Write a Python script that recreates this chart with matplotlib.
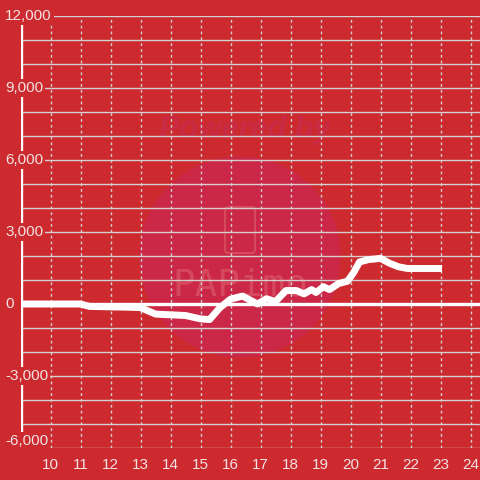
import matplotlib
matplotlib.use("Agg")
import matplotlib.pyplot as plt
from matplotlib.patches import Circle, FancyBboxPatch
from matplotlib.transforms import blended_transform_factory

# data
hours = [9.0, 11.0, 11.3, 12.0, 12.5, 13.0, 13.5, 14.0, 14.5, 15.0, 15.3,
         15.65, 16.0, 16.4, 16.9, 17.2, 17.5, 17.85, 18.2, 18.45, 18.7,
         18.85, 19.1, 19.3, 19.6, 19.9, 20.1, 20.3, 20.6, 21.0, 21.3,
         21.6, 21.9, 23.05]
profit = [0, 0, -100, -120, -130, -150, -420, -450, -480, -620, -650,
          -150, 200, 330, 0, 220, 100, 560, 560, 420, 600,
          480, 720, 600, 850, 950, 1300, 1750, 1850, 1900, 1700,
          1550, 1480, 1480]
x_ticks = list(range(10, 25))
y_labels = [12000, 9000, 6000, 3000, 0, -3000, -6000]

BG = "#cc2a2f"
GRID = "#d4d0d0"
TXT = "#f3e2e2"

fig = plt.figure(figsize=(4.8, 4.8), dpi=100)
fig.patch.set_facecolor(BG)
ax = fig.add_axes([20.5 / 480, 32 / 480, 459.5 / 480, 432 / 480])
ax.set_facecolor(BG)
ax.set_xlim(9.0, 9.0 + 459.5 / 30)
ax.set_ylim(-6000, 12000)

# watermark (behind the grid)
ft = fig.transFigure
ax.add_patch(Circle((240 / 480, 1 - 257 / 480), 100 / 480, transform=ft,
                    color="#cb2847", zorder=0.1, clip_on=False))
ax.text(245 / 480, 1 - 130 / 480, "Powered by", color="#c92a44",
        fontsize=22, fontweight="bold", style="italic", ha="center",
        va="center", family="Liberation Sans", transform=ft, zorder=0.2)
ax.add_patch(FancyBboxPatch((225 / 480, 1 - 253 / 480), 30 / 480, 46 / 480,
                            boxstyle="round,pad=0,rounding_size=0.006",
                            transform=ft, fill=False, edgecolor="#d6485b",
                            lw=1.5, zorder=0.2, clip_on=False))
ax.text(240 / 480, 1 - 286 / 480, "PAPimo", color="#d6485b", fontsize=27,
        ha="center", va="center", family="DejaVu Sans Mono", transform=ft,
        zorder=0.2)

for s in ax.spines.values():
    s.set_visible(False)

ax.set_yticks(range(-6000, 12001, 1000))
ax.set_yticklabels([])
ax.set_xticks(x_ticks)
ax.set_xticklabels([str(t) for t in x_ticks], color=TXT, fontsize=11,
                   family="Liberation Sans")
ax.tick_params(length=0, pad=7)
ax.grid(axis="y", color=GRID, lw=1.0, zorder=1)
ax.grid(axis="x", color=GRID, lw=1.0, linestyle=(0, (2, 2.2)), zorder=1)

ax.axvline(9.02, color="white", lw=2.4, zorder=3)
ax.axhline(0, color="white", lw=2.4, zorder=3)

lab_tr = blended_transform_factory(ft, ax.transData)
for v in y_labels:
    y = v if v != -6000 else -5720
    ax.text(5 / 480, y, f"{v:,}", transform=lab_tr, color=TXT, fontsize=11,
            family="Liberation Sans", ha="left", va="center", zorder=5,
            bbox=dict(boxstyle="square,pad=0.15", fc=BG, ec="none"))

ax.plot(hours, profit, color="white", lw=5, solid_joinstyle="round",
        solid_capstyle="butt", zorder=4)

plt.savefig("out.png", dpi=100, facecolor=BG)
